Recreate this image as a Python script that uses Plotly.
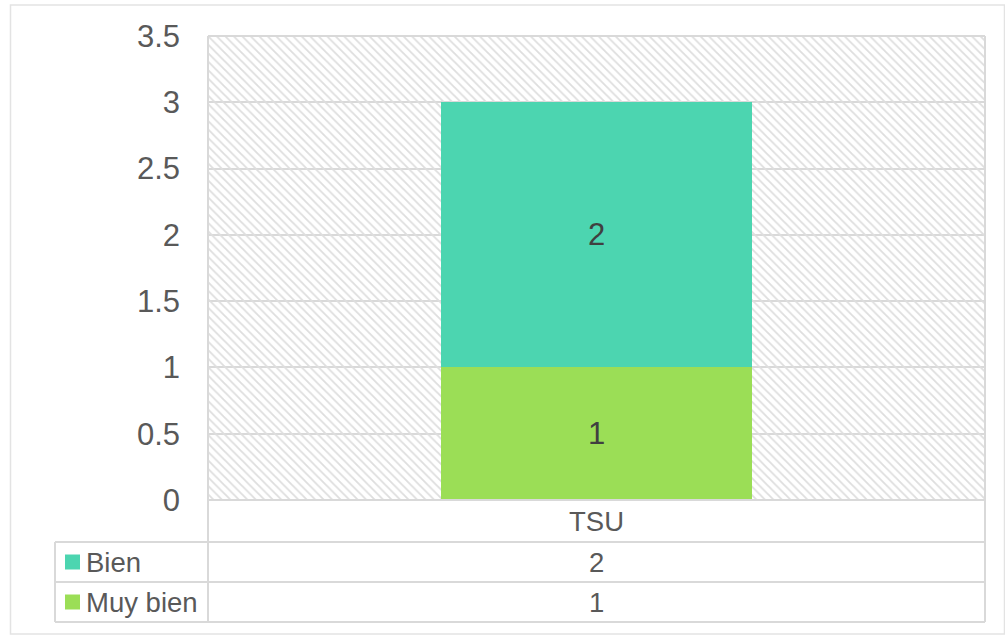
import plotly.graph_objects as go

# ---- data ----
categories = ["TSU"]
series_names = ["Muy bien", "Bien"]          # stacking order (bottom -> top)
series_values = [[1], [2]]
series_colors = ["#9BDE56", "#4CD5B0"]
y_ticks = [0, 0.5, 1, 1.5, 2, 2.5, 3, 3.5]
y_tick_labels = ["0", "0.5", "1", "1.5", "2", "2.5", "3", "3.5"]
Y_MAX = 3.5

W, H = 1005, 636
FONT = "Liberation Sans, Arial, sans-serif"
GRID = "#d9d9d9"
TXT = "#595959"

# pixel layout helpers
px = lambda v: v / W
py = lambda v: 1 - v / H
PL, PR, PT, PB = 208, 985, 36, 500          # plot area
ROW_TOP = [500, 542, 582]                    # table rows (cat, series1, series2)
ROW_BOT = [542, 582, 622]
TAB_L = 55

fig = go.Figure()

# hatched plot-area background (decoration on base x axis)
fig.add_trace(go.Bar(
    x=[0.5], y=[Y_MAX], width=[1], xaxis="x", yaxis="y",
    marker=dict(color="rgba(0,0,0,0)", line=dict(width=0),
                pattern=dict(shape="\\", fgcolor="#dedede", bgcolor="rgba(0,0,0,0)",
                             size=6, solidity=0.3, fillmode="replace")),
    hoverinfo="skip", showlegend=False))

# data bars on overlaying categorical axis
for name, vals, col in zip(series_names, series_values, series_colors):
    fig.add_trace(go.Bar(
        x=categories, y=vals, name=name, xaxis="x2", yaxis="y",
        marker=dict(color=col, line=dict(width=0)), width=0.4,
        text=[str(v) for v in vals], textposition="inside", insidetextanchor="middle",
        textfont=dict(family=FONT, size=31, color="#404040"),
        showlegend=False))

shapes = []
def line(x0, y0, x1, y1, color=GRID, w=2):
    shapes.append(dict(type="line", xref="paper", yref="paper",
                       x0=px(x0), y0=py(y0), x1=px(x1), y1=py(y1),
                       line=dict(color=color, width=w), layer="above"))

# outer chart border
shapes.append(dict(type="rect", xref="paper", yref="paper",
                   x0=px(10.5), y0=py(634), x1=px(1004.5), y1=py(5),
                   line=dict(color="#e3e3e3", width=1.5), layer="above"))
# plot area border
line(PL, PT, PR, PT)
line(PR, PT, PR, ROW_BOT[-1])
line(PL, PT, PL, ROW_BOT[-1])
line(PL, PB, PR, PB)
# table lines
for yb in ROW_BOT:
    line(TAB_L, yb, PR, yb)
line(TAB_L, ROW_TOP[1], TAB_L, ROW_BOT[-1])

TFS = 27.5
annotations = []
# category row
for c in categories:
    annotations.append(dict(text=c, xref="paper", yref="paper", x=px((PL + PR) / 2),
                            y=py((ROW_TOP[0] + ROW_BOT[0]) / 2), showarrow=False,
                            xanchor="center", yanchor="middle",
                            font=dict(family=FONT, size=TFS, color=TXT)))
# series rows (reverse order: top series first)
rows = list(zip(series_names, series_values, series_colors))[::-1]
for i, (name, vals, col) in enumerate(rows):
    yc = (ROW_TOP[i + 1] + ROW_BOT[i + 1]) / 2
    shapes.append(dict(type="rect", xref="paper", yref="paper",
                       x0=px(65), x1=px(80), y0=py(yc - 7.5), y1=py(yc + 7.5),
                       fillcolor=col, line=dict(width=0), layer="above"))
    annotations.append(dict(text=name, xref="paper", yref="paper", x=px(84), y=py(yc),
                            showarrow=False, xanchor="left", yanchor="middle",
                            font=dict(family=FONT, size=TFS, color=TXT)))
    annotations.append(dict(text=str(vals[0]), xref="paper", yref="paper",
                            x=px((PL + PR) / 2), y=py(yc), showarrow=False,
                            xanchor="center", yanchor="middle",
                            font=dict(family=FONT, size=TFS, color=TXT)))

fig.update_layout(
    width=W, height=H, margin=dict(l=0, r=0, t=0, b=0, autoexpand=False),
    paper_bgcolor="white", plot_bgcolor="white",
    barmode="stack", bargap=0,
    xaxis=dict(domain=[px(PL), px(PR)], range=[0, 1], visible=False, fixedrange=True,
               automargin=False),
    xaxis2=dict(domain=[px(PL), px(PR)], overlaying="x", type="category",
                range=[-0.5, 0.5], showticklabels=False, showgrid=False,
                zeroline=False, showline=False, fixedrange=True, automargin=False),
    yaxis=dict(domain=[py(PB), py(PT)], range=[0, Y_MAX], tickvals=y_ticks,
               ticktext=y_tick_labels, showgrid=True, gridcolor=GRID, gridwidth=1.5,
               zeroline=False, showline=False, ticks="", ticklabelstandoff=27,
               tickfont=dict(family=FONT, size=31, color=TXT), fixedrange=True,
               automargin=False),
    shapes=shapes, annotations=annotations, showlegend=False,
)

fig.write_html("out.html", post_script="document.body.style.margin='0';",
               config={"displayModeBar": False})
